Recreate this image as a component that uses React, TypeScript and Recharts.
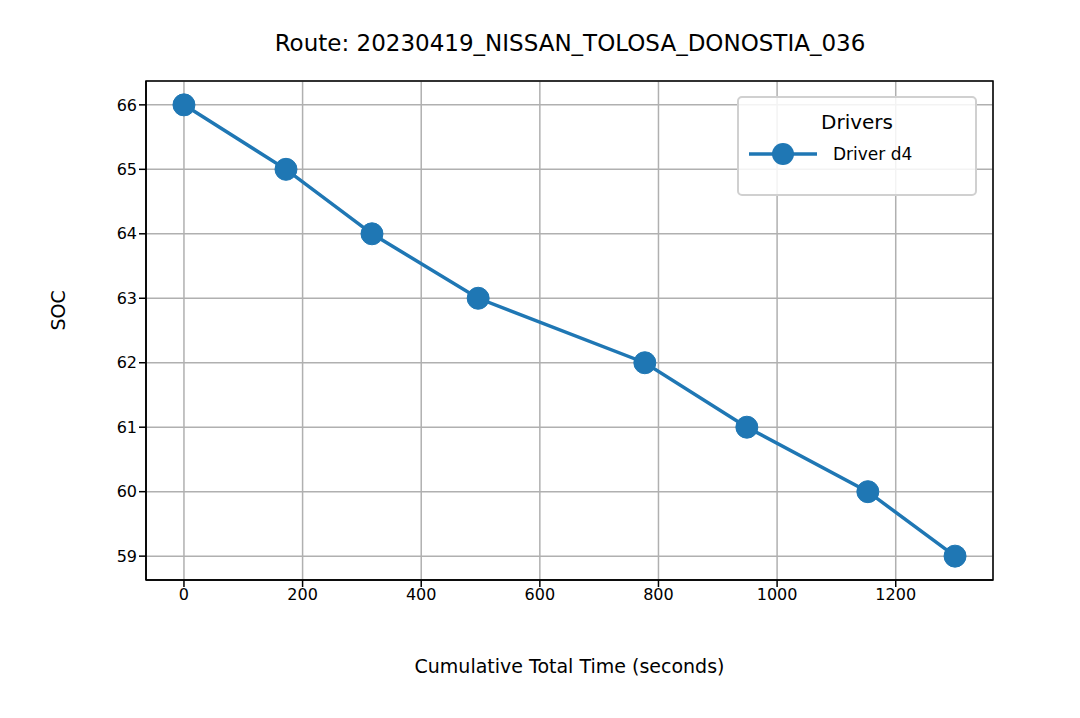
import React from 'react'
import { LineChart, Line, XAxis, YAxis, CartesianGrid, ReferenceArea } from 'recharts'

const times = [0, 172, 317, 496, 777, 949, 1153, 1300]
const soc = [66, 65, 64, 63, 62, 61, 60, 59]
const xTicks = [0, 200, 400, 600, 800, 1000, 1200]
const yTicks = [59, 60, 61, 62, 63, 64, 65, 66]

const data = times.map((t, i) => ({ t, soc: soc[i] }))
const font = 'DejaVu Sans, sans-serif'
const blue = '#1f77b4'

export default function App() {
  return (
    <div style={{ position: 'absolute', left: 0, top: 0, width: 1080, height: 718, background: '#fff', fontFamily: font }}>
      <div style={{ position: 'absolute', top: 30, left: 0, width: 1140, textAlign: 'center', fontSize: 23 }}>
        Route: 20230419_NISSAN_TOLOSA_DONOSTIA_036
      </div>
      <LineChart width={1080} height={718} data={data} margin={{ left: 0, right: 87, top: 81, bottom: 0 }}>
        <CartesianGrid stroke="#b0b0b0" strokeWidth={1.5} vertical horizontal />
        <XAxis
          dataKey="t"
          type="number"
          domain={[-64, 1364]}
          ticks={xTicks}
          tick={{ fill: '#000', fontSize: 16, fontFamily: font }}
          tickLine={{ stroke: '#000', strokeWidth: 1.5 }}
          tickSize={7}
          axisLine={{ stroke: '#000', strokeWidth: 1.5 }}
          label={{ value: 'Cumulative Total Time (seconds)', position: 'insideTop', offset: 80, fill: '#000', fontSize: 19, fontFamily: font }}
          height={138}
        />
        <YAxis
          type="number"
          domain={[58.63, 66.37]}
          ticks={yTicks}
          tick={{ fill: '#000', fontSize: 16, fontFamily: font }}
          tickLine={{ stroke: '#000', strokeWidth: 1.5 }}
          tickSize={7}
          axisLine={{ stroke: '#000', strokeWidth: 1.5 }}
          label={{ value: 'SOC', angle: -90, position: 'insideLeft', offset: 58, fill: '#000', fontSize: 19, fontFamily: font }}
          width={146}
          allowDataOverflow
        />
        <ReferenceArea x1={-64} x2={1364} y1={58.63} y2={66.37} fill="none" stroke="#000" strokeWidth={1.5} ifOverflow="extendDomain" />
        <Line
          dataKey="soc"
          stroke={blue}
          strokeWidth={3.5}
          dot={{ r: 11, fill: blue, stroke: blue, strokeWidth: 1 }}
          isAnimationActive={false}
        />
      </LineChart>
      <div style={{ position: 'absolute', left: 737, top: 96, width: 240, height: 100, boxSizing: 'border-box', border: '2px solid #d0d0d0', borderRadius: 5, background: 'rgba(255,255,255,0.85)' }}>
        <div style={{ textAlign: 'center', fontSize: 20, marginTop: 12 }}>Drivers</div>
        <div style={{ display: 'flex', alignItems: 'center', marginTop: 8, marginLeft: 8 }}>
          <svg width={72} height={24}>
            <line x1={2} y1={12} x2={70} y2={12} stroke={blue} strokeWidth={3.5} />
            <circle cx={36} cy={12} r={11} fill={blue} />
          </svg>
          <span style={{ fontSize: 17, marginLeft: 14 }}>Driver d4</span>
        </div>
      </div>
    </div>
  )
}
